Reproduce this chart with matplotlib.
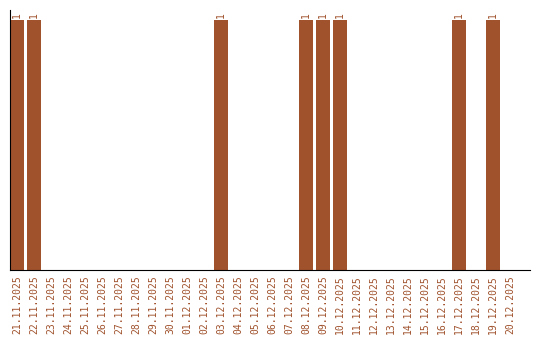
import matplotlib
matplotlib.use('Agg')
import matplotlib.pyplot as plt
import numpy as np

# dates and counts
dates = ['21.11.2025', '22.11.2025', '23.11.2025', '24.11.2025', '25.11.2025',
         '26.11.2025', '27.11.2025', '28.11.2025', '29.11.2025', '30.11.2025',
         '01.12.2025', '02.12.2025', '03.12.2025', '04.12.2025', '05.12.2025',
         '06.12.2025', '07.12.2025', '08.12.2025', '09.12.2025', '10.12.2025',
         '11.12.2025', '12.12.2025', '13.12.2025', '14.12.2025', '15.12.2025',
         '16.12.2025', '17.12.2025', '18.12.2025', '19.12.2025', '20.12.2025']
counts = [1, 1, 0, 0, 0, 0, 0, 0, 0, 0,
          0, 0, 1, 0, 0, 0, 0, 1, 1, 1,
          0, 0, 0, 0, 0, 0, 1, 0, 1, 0]

color = '#A0522D'

fig = plt.figure(figsize=(5.4, 3.4), dpi=100)
ax = fig.add_axes([10 / 540, 70 / 340, 520 / 540, 260 / 340])

x = np.arange(len(dates))
ax.bar(x, counts, width=0.82, color=color)

for xi, c in zip(x, counts):
    if c > 0:
        ax.text(xi, c + 0.01, str(c), rotation=90, ha='center', va='bottom',
                fontsize=7, color=color, family='DejaVu Sans Mono')

ax.set_xlim(-0.41, 30.18)
ax.set_ylim(0, 1.04)
ax.set_xticks(x)
ax.set_xticklabels(dates, rotation=90, fontsize=7, color=color,
                   family='DejaVu Sans Mono')
ax.tick_params(axis='x', length=0, pad=4)
ax.set_yticks([])
for side in ['top', 'right']:
    ax.spines[side].set_visible(False)
ax.spines['left'].set_color('black')
ax.spines['bottom'].set_color('black')

fig.savefig('out.png', dpi=100)
